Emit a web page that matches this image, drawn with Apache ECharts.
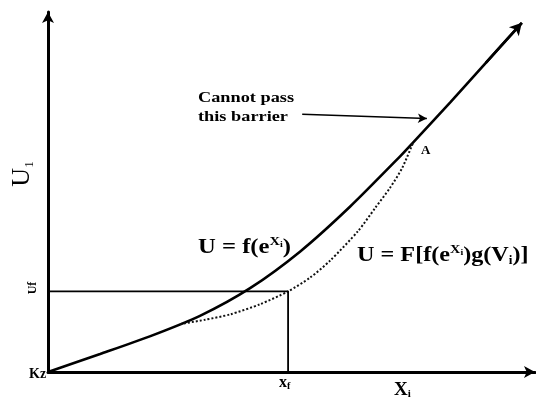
<!DOCTYPE html>
<html>
<head>
<meta charset="utf-8">
<script src="https://cdn.jsdelivr.net/npm/echarts@6/dist/echarts.min.js"></script>
<style>html,body{margin:0;padding:0;background:#fff}#c{width:536px;height:409px}</style>
</head>
<body>
<div id="c"></div>
<script>
// Upper curve U = f(e^Xi)
const curveFX = [0, 10.7, 20.9, 31.2, 41.5, 51.8, 62.0, 72.3, 75.0, 82.6, 89.9, 97.3];
const curveFY = [0, 5.0, 9.9, 15.6, 23.3, 33.5, 45.9, 59.9, 63.8, 74.9, 85.9, 97.0];
// Lower (dotted) curve U = F[f(e^Xi)g(Vi)]
const curveGX = [27.1, 32.2, 37.4, 43.5, 49.3, 53.8, 57.9, 63.7, 67.2, 70.2, 72.7, 75.0];
const curveGY = [13.3, 14.5, 16.0, 18.8, 22.4, 26.2, 30.9, 39.2, 45.6, 51.1, 56.6, 63.8];
// reference level
const xf = 49.3;
const uf = 22.4;
// "Cannot pass this barrier" pointer
const barrierFrom = [52.2, 71.6];
const barrierTo = [77.8, 70.4];

const zip = (xs, ys) => xs.map((x, i) => [x, ys[i]]);
const fData = zip(curveFX, curveFY);
const gData = zip(curveGX, curveGY);
const SERIF = "'Liberation Serif','DejaVu Serif',serif";

const chart = echarts.init(document.getElementById('c'), null, {renderer: 'canvas'});
chart.setOption({
  animation: false,
  backgroundColor: '#fff',
  grid: {left: 48, right: 1, top: 12, bottom: 37},
  xAxis: {
    type: 'value', min: 0, max: 100,
    axisLine: {show: true, onZero: false, symbol: ['none', 'arrow'], symbolSize: [9, 11],
      lineStyle: {color: '#000', width: 3}},
    axisTick: {show: false}, axisLabel: {show: false}, splitLine: {show: false}
  },
  yAxis: {
    type: 'value', min: 0, max: 100,
    axisLine: {show: true, onZero: false, symbol: ['none', 'arrow'], symbolSize: [9, 11],
      lineStyle: {color: '#000', width: 3}},
    axisTick: {show: false}, axisLabel: {show: false}, splitLine: {show: false}
  },
  series: [
    {
      type: 'line', data: fData, smooth: 0.25, showSymbol: false, symbol: 'none',
      lineStyle: {color: '#000', width: 2.6},
      markLine: {
        silent: true, symbol: ['none', 'arrow'], symbolSize: [10, 12],
        label: {show: false},
        lineStyle: {color: '#000', width: 2.6, type: 'solid'},
        data: [
          [{coord: fData[fData.length - 2]}, {coord: fData[fData.length - 1]}],
        ]
      }
    },
    {
      type: 'line', data: gData, smooth: 0.25, showSymbol: false, symbol: 'none',
      lineStyle: {color: '#111', width: 2, type: [2, 2]}
    },
    {
      type: 'line', data: [[0, uf], [xf, uf], [xf, 0]], showSymbol: false, symbol: 'none',
      lineStyle: {color: '#000', width: 1.8}
    },
    {
      type: 'line', data: [],
      markLine: {
        silent: true, symbol: ['none', 'arrow'], symbolSize: [7, 9],
        label: {show: false},
        lineStyle: {color: '#000', width: 1.5, type: 'solid'},
        data: [[{coord: barrierFrom}, {coord: barrierTo}]]
      }
    }
  ],
  graphic: [
    {type: 'text', x: 198, y: 235, scaleX: 1.12, style: {
      text: '{a|U = f(e}{s|X}{t|i}{a|)}', fill: '#000',
      rich: {
        a: {fontFamily: SERIF, fontWeight: 'bold', fontSize: 22, lineHeight: 24, fill: '#000'},
        s: {fontFamily: SERIF, fontWeight: 'bold', fontSize: 13, lineHeight: 13, verticalAlign: 'top', fill: '#000'},
        t: {fontFamily: SERIF, fontWeight: 'bold', fontSize: 9, lineHeight: 9, verticalAlign: 'top', padding: [5, 0, 0, 0], fill: '#000'}
      }
    }},
    {type: 'text', x: 357, y: 243, scaleX: 1.1, style: {
      text: '{a|U = F[f(e}{s|X}{t|i}{a|)g(V}{b|i}{a|)]}', fill: '#000',
      rich: {
        a: {fontFamily: SERIF, fontWeight: 'bold', fontSize: 22, lineHeight: 24, fill: '#000'},
        s: {fontFamily: SERIF, fontWeight: 'bold', fontSize: 13, lineHeight: 13, verticalAlign: 'top', fill: '#000'},
        t: {fontFamily: SERIF, fontWeight: 'bold', fontSize: 9, lineHeight: 9, verticalAlign: 'top', padding: [5, 0, 0, 0], fill: '#000'},
        b: {fontFamily: SERIF, fontWeight: 'bold', fontSize: 12, lineHeight: 12, verticalAlign: 'bottom', fill: '#000'}
      }
    }},
    {type: 'text', x: 198, y: 91, scaleX: 1.22, style: {
      text: 'Cannot pass', fontFamily: SERIF, fontWeight: 'bold', fontSize: 15, fill: '#000'}},
    {type: 'text', x: 198, y: 110, scaleX: 1.22, style: {
      text: 'this barrier', fontFamily: SERIF, fontWeight: 'bold', fontSize: 15, fill: '#000'}},
    {type: 'text', x: 421, y: 144, style: {
      text: 'A', fontFamily: SERIF, fontWeight: 'bold', fontSize: 13, fill: '#000'}},
    {type: 'text', x: 22, y: 174, rotation: Math.PI / 2, style: {
      text: '{a|U}{b|1}', align: 'center', verticalAlign: 'middle',
      rich: {
        a: {fontFamily: SERIF, fontSize: 26, lineHeight: 28, fill: '#000'},
        b: {fontFamily: SERIF, fontSize: 13, lineHeight: 13, verticalAlign: 'bottom', fill: '#000'}
      }
    }},
    {type: 'text', x: 33, y: 288, rotation: Math.PI / 2, style: {
      text: 'Uf', align: 'center', verticalAlign: 'middle',
      fontFamily: SERIF, fontWeight: 'bold', fontSize: 12, fill: '#000'}},
    {type: 'text', x: 29, y: 367, style: {
      text: 'Kz', fontFamily: SERIF, fontWeight: 'bold', fontSize: 14, fill: '#000'}},
    {type: 'text', x: 279, y: 375, style: {
      text: '{a|x}{b|f}',
      rich: {
        a: {fontFamily: SERIF, fontWeight: 'bold', fontSize: 16, lineHeight: 16, fill: '#000'},
        b: {fontFamily: SERIF, fontWeight: 'bold', fontSize: 10, lineHeight: 10, verticalAlign: 'bottom', padding: [7, 0, 0, 0], fill: '#000'}
      }
    }},
    {type: 'text', x: 394, y: 381, style: {
      text: '{a|X}{b|i}',
      rich: {
        a: {fontFamily: SERIF, fontWeight: 'bold', fontSize: 19, lineHeight: 19, fill: '#000'},
        b: {fontFamily: SERIF, fontWeight: 'bold', fontSize: 11, lineHeight: 11, verticalAlign: 'bottom', padding: [8, 0, 0, 0], fill: '#000'}
      }
    }},
    {type: 'text', x: 0, y: 410, scaleX: 1.35, style: {
      text: 'Figure 17', fontFamily: SERIF, fontWeight: 'bold', fontSize: 16, fill: '#000'}}
  ]
});
</script>
</body>
</html>
